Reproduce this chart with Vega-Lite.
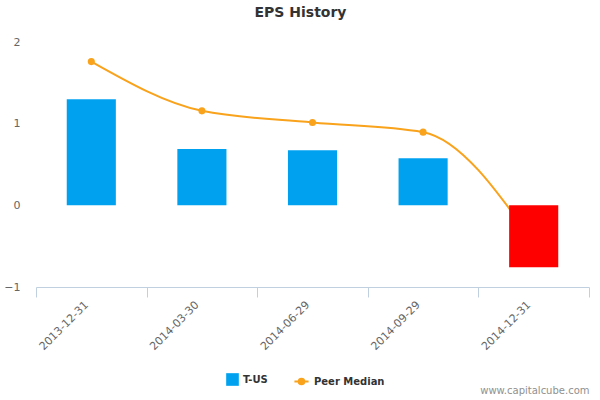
{
  "$schema": "https://vega.github.io/schema/vega-lite/v6.json",
  "autosize": "none",
  "width": 553,
  "height": 245,
  "padding": {"left": 36, "top": 42, "right": 11, "bottom": 113},
  "background": "white",
  "config": {
    "font": "DejaVu Sans",
    "view": {"stroke": null}
  },
  "title": {
    "text": "EPS History",
    "fontSize": 14,
    "fontWeight": "bold",
    "color": "#333333",
    "font": "DejaVu Sans",
    "anchor": "middle",
    "dx": -12,
    "offset": 16
  },
  "data": {
    "values": [
      {"date": "2013-12-31", "eps": 1.30, "peer": 1.76, "sT": "T-US", "sP": "Peer Median"},
      {"date": "2014-03-30", "eps": 0.69, "peer": 1.157, "sT": "T-US", "sP": "Peer Median"},
      {"date": "2014-06-29", "eps": 0.675, "peer": 1.015, "sT": "T-US", "sP": "Peer Median"},
      {"date": "2014-09-29", "eps": 0.577, "peer": 0.896, "sT": "T-US", "sP": "Peer Median"},
      {"date": "2014-12-31", "eps": -0.757, "peer": -0.45, "sT": "T-US", "sP": "Peer Median"}
    ]
  },
  "encoding": {
    "x": {
      "field": "date",
      "type": "ordinal",
      "scale": {"paddingInner": 0, "paddingOuter": 0},
      "axis": {
        "title": "www.capitalcube.com",
        "titleFontSize": 10,
        "titleFontWeight": "normal",
        "titleColor": "#909090",
        "titleAnchor": "end",
        "titleAlign": "right",
        "titleX": 553,
        "titleY": 106,
        "titleBaseline": "alphabetic",
        "labelAngle": -45,
        "labelAlign": "right",
        "labelBaseline": "middle",
        "labelFontSize": 11,
        "labelColor": "#666666",
        "labelPadding": 6,
        "labelOffset": -5,
        "tickBand": "extent",
        "tickSize": 10,
        "tickColor": "#C0D0E0",
        "domainColor": "#C0D0E0",
        "grid": false
      }
    }
  },
  "layer": [
    {
      "mark": {"type": "line", "interpolate": "monotone", "strokeWidth": 2, "color": "#F9A21B"},
      "encoding": {
        "y": {"field": "peer", "type": "quantitative"},
        "stroke": {
          "field": "sP",
          "type": "nominal",
          "scale": {"domain": ["Peer Median"], "range": ["#F9A21B"]},
          "legend": {
            "title": null,
            "orient": "none",
            "legendX": 257,
            "legendY": 331,
            "symbolType": "M-1,0L-0.4,0M0.4,0L1,0M-0.4,0A0.4,0.4,0,1,0,0.4,0A0.4,0.4,0,1,0,-0.4,0Z",
            "symbolSize": 200,
            "symbolStrokeWidth": 2,
            "symbolFillColor": "#F9A21B",
            "labelFontSize": 10,
            "labelFontWeight": "bold",
            "labelColor": "#333333"
          }
        }
      }
    },
    {
      "mark": {"type": "point", "filled": true, "size": 50, "opacity": 1, "color": "#F9A21B"},
      "encoding": {
        "y": {"field": "peer", "type": "quantitative"}
      }
    },
    {
      "mark": {"type": "bar", "width": {"band": 0.444}},
      "encoding": {
        "y": {
          "field": "eps",
          "type": "quantitative",
          "scale": {"domain": [-1, 2], "nice": false},
          "axis": {
            "title": null,
            "values": [-1, 0, 1, 2],
            "format": "d",
            "grid": false,
            "domain": false,
            "ticks": false,
            "labelFontSize": 11,
            "labelColor": "#666666",
            "labelPadding": 16
          }
        },
        "fill": {
          "condition": {"test": "datum.eps < 0", "value": "#FF0000"},
          "field": "sT",
          "type": "nominal",
          "scale": {"domain": ["T-US"], "range": ["#00A2F0"]},
          "legend": {
            "title": null,
            "orient": "none",
            "legendX": 190,
            "legendY": 331,
            "symbolType": "square",
            "symbolSize": 160,
            "symbolStrokeWidth": 0,
            "labelFontSize": 10,
            "labelFontWeight": "bold",
            "labelColor": "#333333"
          }
        }
      }
    }
  ]
}
